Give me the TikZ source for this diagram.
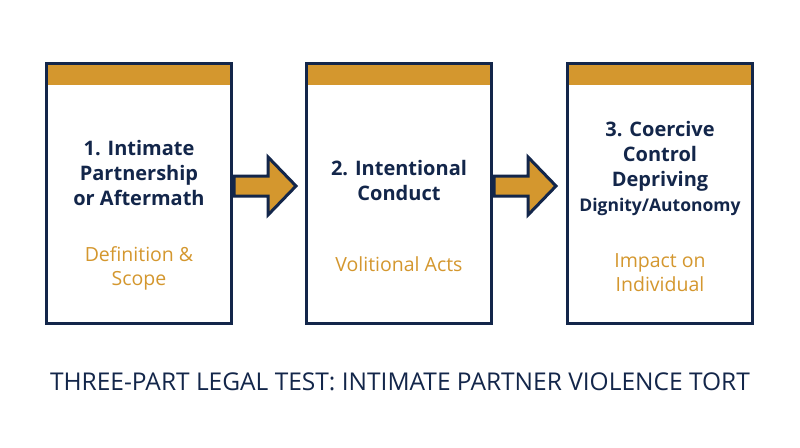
\documentclass[tikz,border=0pt]{standalone}
\usepackage{fontspec}
\setmainfont{Open Sans}
\begin{document}
\begin{tikzpicture}[x=1pt,y=-1pt,
  box/.style={draw=navy,line width=3pt,fill=white},
  head/.style={text=navy,font=\fontsize{20}{25}\selectfont\bfseries,align=center},
  sub/.style={text=gold,font=\fontsize{19.5}{24}\selectfont,align=center},
  arr/.style={draw=navy,line width=3pt,fill=gold,line join=miter}]
\definecolor{navy}{HTML}{13264A}
\definecolor{gold}{HTML}{D4972E}
\useasboundingbox (0,0) rectangle (800,447);
\fill[white] (0,0) rectangle (800,447);
\foreach \i/\x in {1/46,2/306,3/567}{
  \draw[box] (\x,63) rectangle ++(185,260);
  \fill[gold] (\x+1.5,64.5) rectangle ++(182,20);
  \draw[navy,line width=3pt] (\x,63) rectangle ++(185,260);
}
\foreach \x in {232,492}{
  \draw[arr] (\x+2,176) -- (\x+36,176) -- (\x+36,157) -- (\x+64,186) -- (\x+36,215) -- (\x+36,196) -- (\x+2,196) -- cycle;
}
\node[head] (h1) at (139,173) {1. Intimate\\Partnership\\or Aftermath};
\node[sub] (s1) at (139,268) {Definition \&\\Scope};
\node[head] (h2) at (399,180) {2. Intentional\\Conduct};
\node[sub] (s2) at (399,264) {Volitional Acts};
\node[head] (h3) at (660,169) {3. Coercive\\Control\\Depriving\\{\fontsize{17.5}{25}\selectfont Dignity/Autonomy}};
\node[sub] (s3) at (660,273) {Impact on\\Individual};
\node[text=navy,font=\fontsize{24.5}{28}\selectfont] (t) at (400,382) {THREE-PART LEGAL TEST: INTIMATE PARTNER VIOLENCE TORT};
\end{tikzpicture}
\end{document}
